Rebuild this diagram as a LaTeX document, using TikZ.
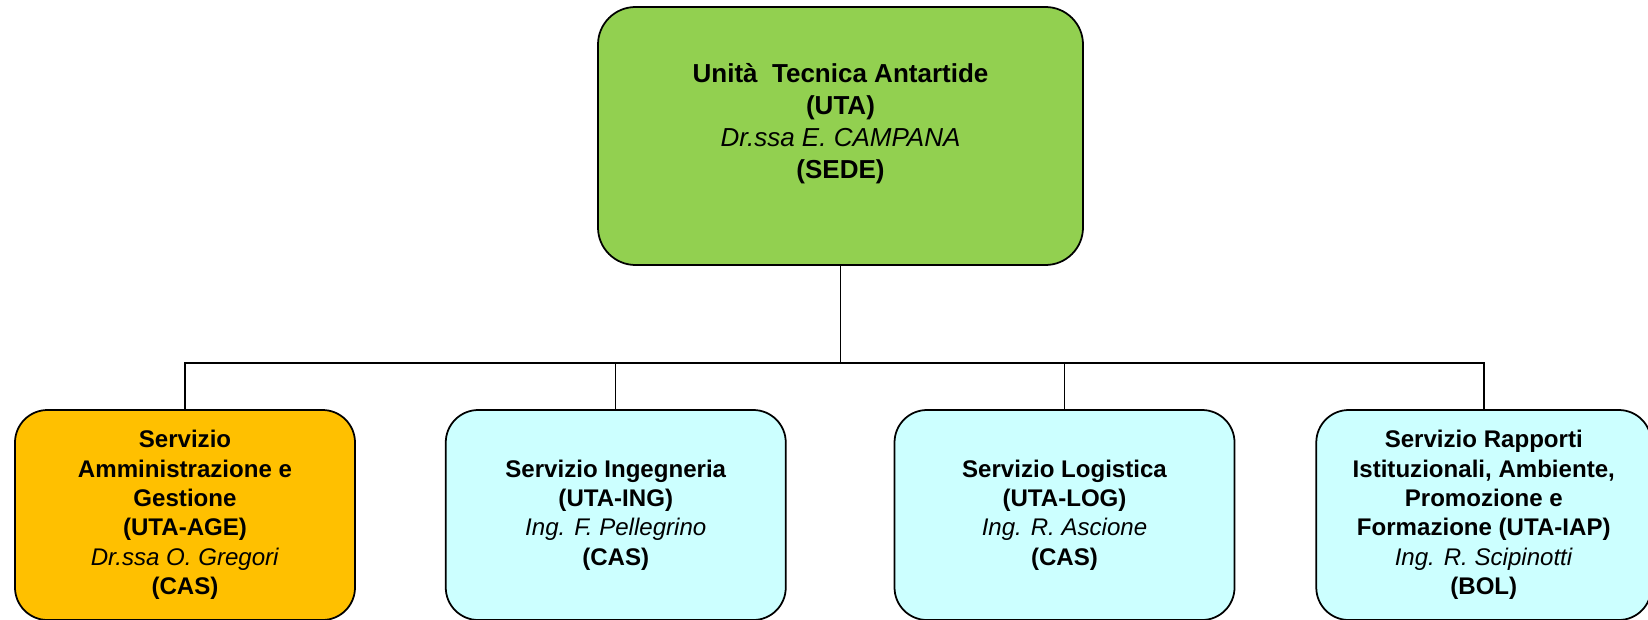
\documentclass[tikz,border=0pt]{standalone}
\usepackage{fontspec}
\setmainfont{Liberation Sans}
\usetikzlibrary{positioning}

\definecolor{utagreen}{HTML}{92D050}
\definecolor{ageorange}{HTML}{FFC000}
\definecolor{servcyan}{HTML}{CCFFFF}

\newcommand{\resp}[1]{\textmd{\textit{#1}}}

\begin{document}
\begin{tikzpicture}[nodes={draw, line width=1pt, align=center},
    unita/.style={fill=utagreen, rounded corners=0.75cm, minimum width=9.7cm, minimum height=5.16cm,
        font=\fontsize{14.8}{18.1}\selectfont\bfseries},
    servizio/.style={fill=servcyan, rounded corners=0.65cm, minimum width=6.8cm, minimum height=4.2cm,
        font=\fontsize{13.7}{16.7}\selectfont\bfseries},
    link/.style={line width=1.1pt},
    thinlink/.style={line width=0.6pt}]
    \useasboundingbox (0,0) rectangle (32.96,-12.38);
    \node[unita] (uta) at (16.81,-2.72) {Unità~~Tecnica Antartide\\(UTA)\\\resp{Dr.ssa E. CAMPANA}\\(SEDE)\\[-1pt]\mbox{}};
    \node[servizio, fill=ageorange] (age) at (3.7,-10.3) {Servizio\\Amministrazione e\\Gestione\\(UTA-AGE)\\\resp{Dr.ssa O. Gregori}\\(CAS)};
    \node[servizio, right=1.78cm of age] (ing) {Servizio Ingegneria\\(UTA-ING)\\\resp{Ing. F. Pellegrino}\\(CAS)};
    \node[servizio, right=2.14cm of ing] (log) {Servizio Logistica\\(UTA-LOG)\\\resp{Ing. R. Ascione}\\(CAS)};
    \node[servizio, minimum width=6.7cm, right=1.6cm of log] (iap) {Servizio Rapporti\\Istituzionali, Ambiente,\\Promozione e\\Formazione (UTA-IAP)\\\resp{Ing. R. Scipinotti}\\(BOL)};
    % connectors
    \coordinate (fork) at ([yshift=-1.94cm]uta.south);
    \draw[link] (uta.south) -- (fork);
    \draw[link] (fork) -| (age.north);
    \draw[thinlink] (fork) -| (ing.north);
    \draw[thinlink] (fork) -| (log.north);
    \draw[link] (fork) -| (iap.north);
\end{tikzpicture}
\end{document}
